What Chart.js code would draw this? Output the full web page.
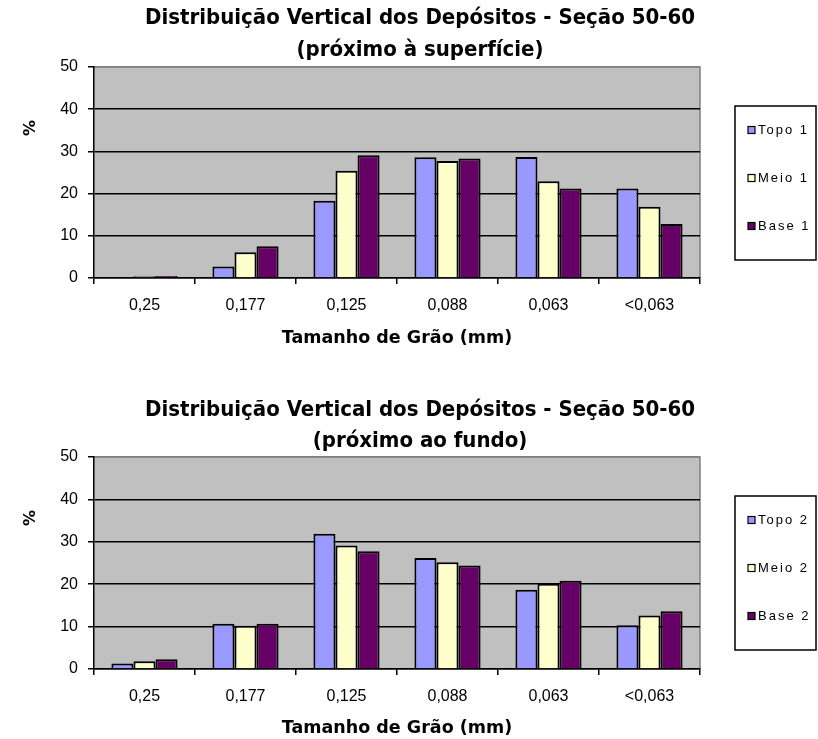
<!DOCTYPE html>
<html><head><meta charset="utf-8">
<script src="https://cdn.jsdelivr.net/npm/chart.js@4.4.1/dist/chart.umd.min.js"></script>
<style>
html,body{margin:0;padding:0;background:#fff;overflow:hidden}
canvas{display:block}
</style></head><body>
<canvas id="c1" width="818" height="370"></canvas>
<canvas id="c2" width="818" height="369"></canvas>
<script>
// ---- data ----
const categories = ['0,25', '0,177', '0,125', '0,088', '0,063', '<0,063'];
const topo1 = [0, 2.7, 18.3, 28.6, 28.7, 21.2];
const meio1 = [0.4, 6.1, 25.4, 27.7, 22.9, 16.9];
const base1 = [0.5, 7.5, 29.1, 28.3, 21.2, 12.8];
const topo2 = [1.3, 10.7, 31.9, 26.2, 18.7, 10.3];
const meio2 = [1.8, 10.2, 29.1, 25.2, 20.1, 12.6];
const base2 = [2.3, 10.7, 27.8, 24.4, 20.8, 13.6];
const yTicks = [0, 10, 20, 30, 40, 50];
const title1 = ['Distribuição Vertical dos Depósitos - Seção 50-60', '(próximo à superfície)'];
const title2 = ['Distribuição Vertical dos Depósitos - Seção 50-60', '(próximo ao fundo)'];
const xTitle = 'Tamanho de Grão (mm)';
const yTitleText = '%';
const colors = ['#9999FF', '#FFFFCC', '#660066'];

const plotBg = {
  id: 'plotBg',
  beforeDraw(chart) {
    const {ctx, chartArea: a} = chart;
    ctx.save();
    ctx.fillStyle = '#C0C0C0';
    ctx.fillRect(a.left, a.top, a.width, a.height);
    ctx.strokeStyle = '#808080'; ctx.lineWidth = 1.5;
    ctx.beginPath(); ctx.moveTo(a.left, a.top); ctx.lineTo(a.right, a.top); ctx.lineTo(a.right, a.bottom); ctx.stroke();
    ctx.restore();
  }
};
const yTitlePlugin = {
  id: 'yTitlePlugin',
  afterDraw(chart) {
    const {ctx, chartArea: a} = chart;
    ctx.save();
    ctx.translate(a.left - 63, a.top + 61);
    ctx.rotate(-Math.PI / 2);
    ctx.font = 'bold 16px "DejaVu Sans"';
    ctx.textAlign = 'center'; ctx.textBaseline = 'middle';
    ctx.fillStyle = '#000';
    ctx.fillText(yTitleText, 0, 0);
    ctx.restore();
  }
};
const boxLegend = {
  id: 'boxLegend',
  afterDraw(chart) {
    const {ctx, chartArea: a} = chart;
    const x0 = a.right + 35, y0 = a.top + 39, w = 81, h = 154;
    ctx.save();
    ctx.fillStyle = '#fff'; ctx.fillRect(x0, y0, w, h);
    ctx.strokeStyle = '#000'; ctx.lineWidth = 1.5; ctx.strokeRect(x0, y0, w, h);
    ctx.font = '13px "Liberation Sans"';
    try { ctx.letterSpacing = '2px'; } catch (e) {}
    ctx.textBaseline = 'middle'; ctx.textAlign = 'left';
    chart.data.datasets.forEach((ds, i) => {
      const cy = y0 + 24 + i * 48;
      ctx.fillStyle = ds.backgroundColor; ctx.fillRect(x0 + 13, cy - 3.5, 7, 7);
      ctx.lineWidth = 1.2; ctx.strokeStyle = '#000'; ctx.strokeRect(x0 + 13, cy - 3.5, 7, 7);
      ctx.fillStyle = '#000'; ctx.fillText(ds.label, x0 + 23, cy);
    });
    ctx.restore();
  }
};

function makeChart(id, titleLines, series, labels, cfg) {
  const datasets = series.map((d, i) => ({
    label: labels[i], data: d, backgroundColor: colors[i],
    borderColor: '#000', borderWidth: 2,
    categoryPercentage: 0.655, barPercentage: 1.0
  }));
  return new Chart(document.getElementById(id), {
    type: 'bar',
    data: {labels: categories, datasets},
    options: {
      responsive: false, animation: false, events: [],
      layout: {padding: {left: 22, right: 0, top: 0, bottom: 0}},
      plugins: {
        legend: {display: false},
        tooltip: {enabled: false},
        title: {
          display: true, text: titleLines, color: '#000',
          font: {family: '"Liberation Sans Narrow", "DejaVu Sans Condensed", sans-serif', size: 22, weight: 'bold', lineHeight: cfg.titleLH},
          padding: {top: cfg.titleTop, bottom: cfg.titleBottom}
        }
      },
      scales: {
        x: {
          grid: {display: true, drawOnChartArea: false, offset: true, tickLength: 6, color: '#000', lineWidth: 1.5},
          border: {display: true, color: '#000', width: 1.5},
          ticks: {padding: 12, color: '#000', font: {family: '"Liberation Sans", Arial, sans-serif', size: 16}, maxRotation: 0, autoSkip: false},
          title: {display: true, text: xTitle, color: '#000', font: {family: '"DejaVu Sans", sans-serif', size: 17.5, weight: 'bold', lineHeight: 1.2}, padding: {top: 0, bottom: cfg.xTitleBottom}},
          afterFit: s => { s.height = cfg.xHeight; }
        },
        y: {
          min: 0, max: 50,
          afterBuildTicks: s => { s.ticks = yTicks.map(v => ({value: v})); },
          ticks: {padding: 10, color: '#000', font: {family: '"Liberation Sans", Arial, sans-serif', size: 16}},
          grid: {color: c => (c.tick && c.tick.value === 50) ? '#808080' : '#000', lineWidth: 1.5, tickLength: 6, tickColor: '#000'},
          border: {display: true, color: '#000', width: 1.5},
          afterFit: s => { s.width = 72; }
        },
        r: {
          position: 'right', display: true,
          grid: {display: false}, ticks: {display: false}, border: {display: false},
          afterFit: s => { s.width = 118; }
        }
      }
    },
    plugins: [plotBg, yTitlePlugin, boxLegend]
  });
}

makeChart('c1', title1, [topo1, meio1, base1], ['Topo 1', 'Meio 1', 'Base 1'],
  {titleLH: '32px', titleTop: 2, titleBottom: 1, xHeight: 92, xTitleBottom: 21});
makeChart('c2', title2, [topo2, meio2, base2], ['Topo 2', 'Meio 2', 'Base 2'],
  {titleLH: '31px', titleTop: 24.5, titleBottom: 0.5, xHeight: 70, xTitleBottom: 0.5});
</script>
</body></html>
